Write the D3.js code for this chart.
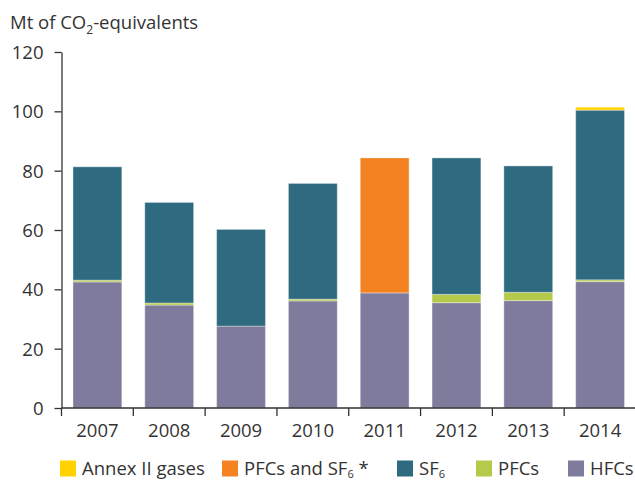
<!DOCTYPE html>
<html>
<head>
<meta charset="utf-8">
<script src="https://cdn.jsdelivr.net/npm/d3@7"></script>
<style>
    body { margin: 0; background: #fff; }
    text { font-family: "Open Sans", sans-serif; fill: #333; }
</style>
</head>
<body>
<script>
// emissions of fluorinated gases, stacked per year

var years = ["2007", "2008", "2009", "2010", "2011", "2012", "2013", "2014"];
var hfcs = [42.5, 34.7, 27.6, 36.1, 38.8, 35.5, 36.2, 42.6];
var pfcs = [0.6, 0.7, 0, 0.6, 0, 2.8, 2.8, 0.6];
var sf6 = [38.2, 33.9, 32.6, 39.0, 0, 46.0, 42.6, 57.2];
var pfcs_sf6 = [0, 0, 0, 0, 45.5, 0, 0, 0];
var annex2 = [0, 0, 0, 0, 0, 0, 0, 1.0];
var y_ticks = [0, 20, 40, 60, 80, 100, 120];

var series = [
    { key: "hfcs", name: "HFCs", values: hfcs, color: "#7f7b9c" },
    { key: "pfcs", name: "PFCs", values: pfcs, color: "#b5c94a" },
    { key: "sf6", name: "SF", sub: "6", values: sf6, color: "#2e6b80" },
    { key: "pfcs_sf6", name: "PFCs and SF", sub: "6", after: " *", values: pfcs_sf6, color: "#f58220" },
    { key: "annex2", name: "Annex II gases", values: annex2, color: "#ffd200" }
];

var width = 635, height = 481;
var fs = "18.5px";
var svg = d3.select("body").append("svg")
    .attr("width", width)
    .attr("height", height);

var x = d3.scaleBand().domain(years).range([61.5, 636]).paddingInner(0.32).paddingOuter(0.16);
var y = d3.scaleLinear().domain([0, 120]).range([408, 52]);

// table for d3.stack
var table = years.map(function(yr, i) {
    var row = { year: yr };
    series.forEach(function(s) { row[s.key] = s.values[i]; });
    return row;
});
var stacked = d3.stack().keys(series.map(function(s) { return s.key; }))(table);

// ====== BARS ======
svg.append("g").selectAll("g")
    .data(stacked)
    .enter().append("g")
        .style("fill", function(d, i) { return series[i].color; })
    .selectAll("rect")
    .data(function(d) { return d.filter(function(p) { return p[1] - p[0] > 0; }); })
    .enter().append("rect")
        .attr("x", function(d) { return x(d.data.year); })
        .attr("width", x.bandwidth())
        .attr("y", function(d) { return y(d[1]); })
        .attr("height", function(d) { return y(d[0]) - y(d[1]); })
        .style("stroke", "rgba(255,255,255,0.35)")
        .style("stroke-width", 1);

// ====== AXES ======
var yAxis = svg.append("g")
    .attr("transform", "translate(61.5,0)")
    .call(d3.axisLeft(y).tickValues(y_ticks).tickSize(7).tickPadding(11).tickSizeOuter(0));
yAxis.select(".domain").attr("stroke", "#333").attr("stroke-width", 1.3);
yAxis.selectAll(".tick line").attr("stroke", "#333").attr("stroke-width", 1.3);
yAxis.selectAll("text").style("font-size", fs).attr("fill", "#333").attr("dy", "0.35em");

// band boundaries for the x ticks
var edges = years.map(function(yr) { return x(yr) - x.step() * x.paddingInner() / 2; });
edges.push(636);

var xAxis = svg.append("g").attr("class", "x-axis");
xAxis.append("line")
    .attr("x1", 61.5).attr("x2", 636)
    .attr("y1", y(0)).attr("y2", y(0))
    .style("stroke", "#333").style("stroke-width", 1.3);
xAxis.selectAll(".xtick")
    .data(edges)
    .enter().append("line")
        .attr("class", "xtick")
        .attr("x1", function(d) { return d; })
        .attr("x2", function(d) { return d; })
        .attr("y1", y(0))
        .attr("y2", y(0) + 8)
        .style("stroke", "#333").style("stroke-width", 1.3);
xAxis.selectAll(".xlabel")
    .data(years)
    .enter().append("text")
        .attr("class", "xlabel")
        .attr("x", function(d) { return x(d) + x.bandwidth() / 2; })
        .attr("y", 437)
        .attr("text-anchor", "middle")
        .style("font-size", fs)
        .text(function(d) { return d; });

// ====== TITLE ======
var title = svg.append("text")
    .attr("x", 10)
    .attr("y", 29)
    .style("font-size", fs);
title.append("tspan").text("Mt of CO");
title.append("tspan").attr("dy", 5).style("font-size", "12px").text("2");
title.append("tspan").attr("dy", -5).text("-equivalents");

// ====== LEGEND ======
var legend_order = ["annex2", "pfcs_sf6", "sf6", "pfcs", "hfcs"];
var legend_x = [60, 222, 397, 476, 568];
var legend = svg.append("g").selectAll("g")
    .data(legend_order.map(function(k) { return series.find(function(s) { return s.key === k; }); }))
    .enter().append("g")
        .attr("transform", function(d, i) { return "translate(" + legend_x[i] + ",0)"; });
legend.append("rect")
    .attr("x", 0).attr("y", 460.5)
    .attr("width", 16).attr("height", 16)
    .style("fill", function(d) { return d.color; });
var ltext = legend.append("text")
    .attr("x", 22)
    .attr("y", 474.5)
    .style("font-size", fs);
ltext.append("tspan").text(function(d) { return d.name; });
ltext.filter(function(d) { return d.sub; }).append("tspan")
    .attr("dy", 3).style("font-size", "11px").text(function(d) { return d.sub; });
ltext.filter(function(d) { return d.after; }).append("tspan")
    .attr("dy", -3).text(function(d) { return d.after; });
</script>
</body>
</html>
